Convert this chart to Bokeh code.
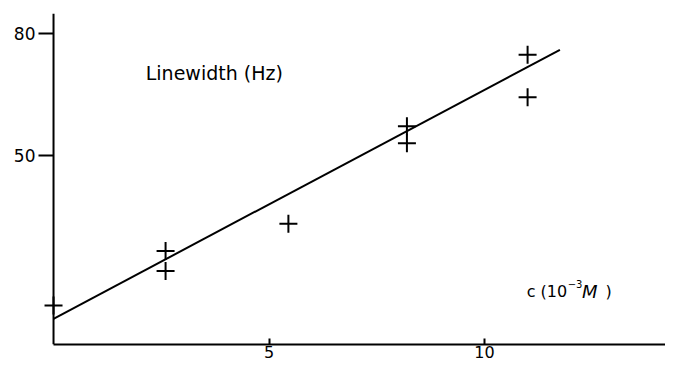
from bokeh.plotting import figure
from bokeh.models import Range1d, FixedTicker, Label, Span
from bokeh.embed import file_html
from bokeh.resources import INLINE

# data
conc = [0.0, 2.6, 2.6, 5.45, 8.2, 8.2, 11.0, 11.0]
linewidth_hz = [13.1, 26.5, 21.6, 33.2, 57.2, 53.0, 74.8, 64.3]
fit_conc = [0.0, 11.75]
fit_width = [9.85, 76.0]
x_ticks = [5, 10]
y_ticks = [50, 80]

FONT = "DejaVu Sans"

p = figure(width=665, height=362, output_backend="svg", toolbar_location=None,
           x_range=Range1d(-0.279, 14.2), y_range=Range1d(3.53, 84.92),
           min_border_left=41, min_border_right=0, min_border_top=13, min_border_bottom=18)
p.outline_line_color = None
p.xgrid.visible = False
p.ygrid.visible = False
p.background_fill_color = "white"
p.border_fill_color = "white"

for ax in (p.xaxis[0], p.yaxis[0]):
    ax.axis_line_width = 2
    ax.axis_line_color = "black"
    ax.major_tick_line_width = 2
    ax.major_tick_line_color = "black"
    ax.minor_tick_line_color = None
    ax.major_label_text_font = FONT
    ax.major_label_text_color = "black"

p.xaxis[0].ticker = FixedTicker(ticks=x_ticks)
p.xaxis[0].major_tick_in = 6
p.xaxis[0].major_tick_out = 0
p.xaxis[0].major_label_standoff = 1
p.xaxis[0].major_label_text_font_size = "16px"
p.xaxis[0].bounds = (0, 14.2)

# y axis: ticks/labels at the frame edge, axis line drawn at c = 0
p.yaxis[0].ticker = FixedTicker(ticks=y_ticks)
p.yaxis[0].axis_line_color = None
p.yaxis[0].major_tick_in = 12
p.yaxis[0].major_tick_out = 3
p.yaxis[0].major_label_standoff = 3
p.yaxis[0].major_label_text_font_size = "17px"
p.add_layout(Span(location=0, dimension="height", line_color="black", line_width=2))

p.line(fit_conc, fit_width, line_color="black", line_width=2)
p.scatter(conc, linewidth_hz, marker="cross", size=18, line_color="black", line_width=2)

p.add_layout(Label(x=2.14, y=70.4, text="Linewidth (Hz)", text_font=FONT,
                   text_font_size="19px", text_color="black", text_baseline="middle"))
p.add_layout(Label(x=10.98, y=16.6, text="c (10", text_font=FONT,
                   text_font_size="16px", text_color="black", text_baseline="middle"))
p.add_layout(Label(x=11.93, y=18.4, text="\u22123", text_font=FONT,
                   text_font_size="10px", text_color="black", text_baseline="middle"))
p.add_layout(Label(x=12.26, y=16.6, text="M", text_font=FONT, text_font_style="italic",
                   text_font_size="18px", text_color="black", text_baseline="middle"))
p.add_layout(Label(x=12.81, y=16.6, text=")", text_font=FONT,
                   text_font_size="16px", text_color="black", text_baseline="middle"))

open("out.html", "w").write(file_html(p, INLINE))
